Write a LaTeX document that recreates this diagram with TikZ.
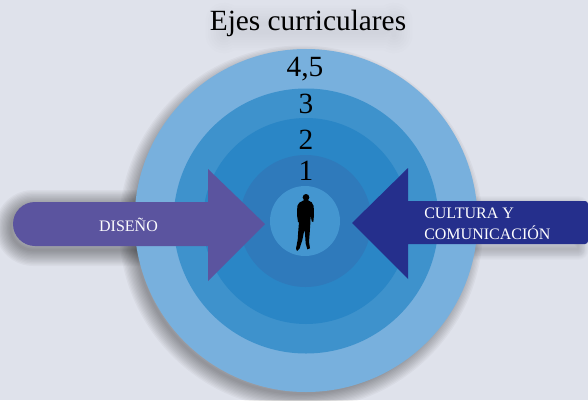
\documentclass[tikz,border=0pt]{standalone}
\usepackage{fontspec}
\setmainfont{Liberation Serif}
\usepackage{xcolor}
\definecolor{backcol}{HTML}{DFE2EB}
\definecolor{ringa}{HTML}{78B0DD}
\definecolor{ringb}{HTML}{3E92CC}
\definecolor{ringc}{HTML}{2A86C6}
\definecolor{ringd}{HTML}{2F7ABB}
\definecolor{ringe}{HTML}{4496D0}
\definecolor{disenocol}{HTML}{5B549F}
\definecolor{culturacol}{HTML}{252F8C}
\tikzset{
    numlabel/.style={font=\fontsize{22}{24}\selectfont, text=black, inner sep=0pt},
    arrowlabel/.style={font=\fontsize{12}{15}\selectfont, text=white!95!backcol, inner sep=0pt},
    softshadow/.style={draw=black, opacity=.032, line join=round}
}
\begin{document}
\begin{tikzpicture}[x=.75pt,y=-.75pt]
        \useasboundingbox (0,0) rectangle (588,400);
        \fill[backcol] (0,0) rectangle (588,400);
        % shadows
        \foreach \w in {2,4,...,24} {
            \draw[softshadow, line width=\w pt] (301,227.5) circle (166);
            \draw[softshadow, line width=\w pt] (33,206) arc (270:90:22) -- (208,250) -- (208,206) -- cycle;
            \draw[softshadow, line width=.7*\w pt, opacity=.016] (470,207) -- (578,207) -- (578,249) -- (470,249) -- cycle;
        }
        \foreach \w in {4,8,...,28}
            \draw[softshadow, line width=\w pt, opacity=.008, rounded corners=8pt] (224,24) rectangle (394,32);
        % rings
        \fill[ringa] (306,220.5) circle (171.5);
        \fill[ringb] (306,221) circle (132.5);
        \fill[ringc] (306,221) circle (103);
        \fill[ringd] (305.5,221) circle (66);
        \fill[ringe] (305,221) circle (35);
        % person
        \begin{scope}[shift={(270,180)},scale=1/3]
            \fill[black] (108,52) circle (10);
            \fill[black] (103,60) -- (113,60) -- (125,67) -- (131,78) -- (132,105) -- (130,126) -- (125,124) -- (122,104)
                -- (121,130) -- (119,160) -- (117,185) -- (120,205) -- (112,208) -- (107,190) -- (105,160) -- (103,150)
                -- (97,180) -- (89,205) -- (81,213) -- (78,206) -- (83,180) -- (85,150) -- (87,126) -- (84,126) -- (81,105)
                -- (82,78) -- (88,68) -- cycle;
        \end{scope}
        % arrows
        \fill[disenocol] (35,202) -- (208,202) -- (208,169) -- (265,224) -- (208,281) -- (208,246) -- (35,246) arc (90:270:22) -- cycle;
        \fill[culturacol] (588,204) arc (0:-90:3) -- (408,201) -- (408,168) -- (352,223) -- (408,279) -- (408,244) -- (585,244) arc (90:0:3) -- cycle;
        % labels
        \node[font=\fontsize{22}{24}\selectfont, text=black, inner sep=0pt] (title) at (308,23) {Ejes curriculares};
        \node[numlabel] (nivelcuatro) at (305,69) {4,5};
        \node[numlabel] (niveltres) at (306,104) {3};
        \node[numlabel] (niveldos) at (306,140) {2};
        \node[numlabel] (niveluno) at (306,171) {1};
        \node[arrowlabel] (diseno) at (128.5,225) {DISEÑO};
        \node[arrowlabel, anchor=west] (cultura) at (424,213) {CULTURA Y};
        \node[arrowlabel, anchor=west] (comunicacion) at (424,233) {COMUNICACIÓN};
\end{tikzpicture}
\end{document}
